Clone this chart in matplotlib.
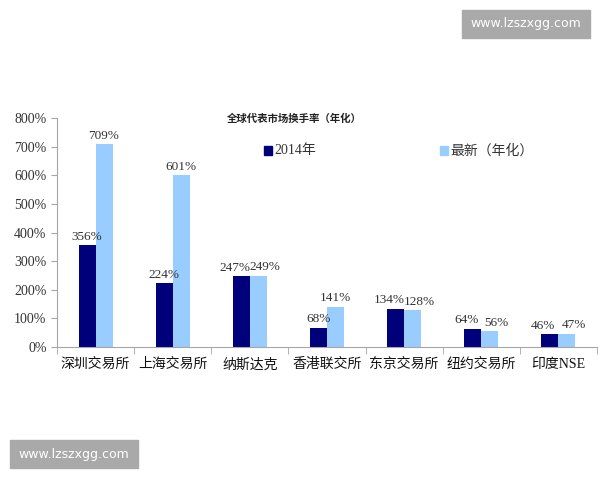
import numpy as np
import matplotlib
matplotlib.use("Agg")
import matplotlib.pyplot as plt
from matplotlib.patches import Rectangle

plt.rcParams["font.family"] = ["Liberation Serif", "Noto Sans CJK SC", "DejaVu Sans"]

categories = ["深圳交易所", "上海交易所", "纳斯达克", "香港联交所", "东京交易所", "纽约交易所", "印度NSE"]
y2014 = [356, 224, 247, 68, 134, 64, 46]
latest = [709, 601, 249, 141, 128, 56, 47]
series_names = ["2014年", "最新（年化）"]
yticks = [0, 100, 200, 300, 400, 500, 600, 700, 800]

DARK = "#00007a"
LIGHT = "#99ccff"
AXC = "#a6a6a6"

fig = plt.figure(figsize=(6, 4.8), dpi=100)
ax = fig.add_axes([0.095, 0.277, 0.9, 0.477])

x = np.arange(len(categories))
w = 0.22
b1 = ax.bar(x - w / 2, y2014, w, color=DARK, label=series_names[0])
b2 = ax.bar(x + w / 2, latest, w, color=LIGHT, label=series_names[1])

# labels nudged apart a little where the two bars are about the same height
for i, (v1, v2) in enumerate(zip(y2014, latest)):
    close = abs(v1 - v2) < 60
    dx = 0.085 if close else 0.0
    ax.text(x[i] - w / 2 - dx, v1 + 8, f"{v1}%", ha="center", va="bottom",
            fontsize=9.5, color="#333333")
    ax.text(x[i] + w / 2 + dx, v2 + 8, f"{v2}%", ha="center", va="bottom",
            fontsize=9.5, color="#333333")

ax.set_xlim(-0.5, len(categories) - 0.5)
ax.set_ylim(0, 800)
ax.set_yticks(yticks)
ax.set_yticklabels([f"{t}%" for t in yticks], fontsize=10, color="#333333")
ax.set_xticks(x)
ax.set_xticklabels(categories, fontsize=10, color="#111111")
ax.set_xticks(np.arange(-0.5, len(categories) + 0.5, 1), minor=True)
ax.tick_params(axis="x", which="major", length=0, pad=8)
ax.tick_params(axis="x", which="minor", length=5, color=AXC, direction="out")
ax.tick_params(axis="y", length=4, color=AXC, direction="out")
for s in ["top", "right"]:
    ax.spines[s].set_visible(False)
for s in ["left", "bottom"]:
    ax.spines[s].set_color(AXC)

fig.text(0.49, 0.752, "全球代表市场换手率（年化）", ha="center", va="center",
         fontsize=7.5, fontweight="bold", color="#222222")

# legend
fig.patches.append(Rectangle((0.440, 0.677), 0.014, 0.018, transform=fig.transFigure,
                             color=DARK, figure=fig))
fig.text(0.458, 0.686, series_names[0], ha="left", va="center", fontsize=10, color="#333333")
fig.patches.append(Rectangle((0.733, 0.677), 0.014, 0.018, transform=fig.transFigure,
                             color=LIGHT, figure=fig))
fig.text(0.751, 0.686, series_names[1], ha="left", va="center", fontsize=10, color="#333333")

# watermarks
for (x0, y0) in [(0.770, 0.921), (0.017, 0.025)]:
    fig.patches.append(Rectangle((x0, y0), 0.213, 0.058, transform=fig.transFigure,
                                 color="#a9a9a9", figure=fig))
    fig.text(x0 + 0.1065, y0 + 0.029, "www.lzszxgg.com", ha="center", va="center",
             fontsize=9, color="white", family="DejaVu Sans")

fig.savefig("out.png", dpi=100, facecolor="white")
